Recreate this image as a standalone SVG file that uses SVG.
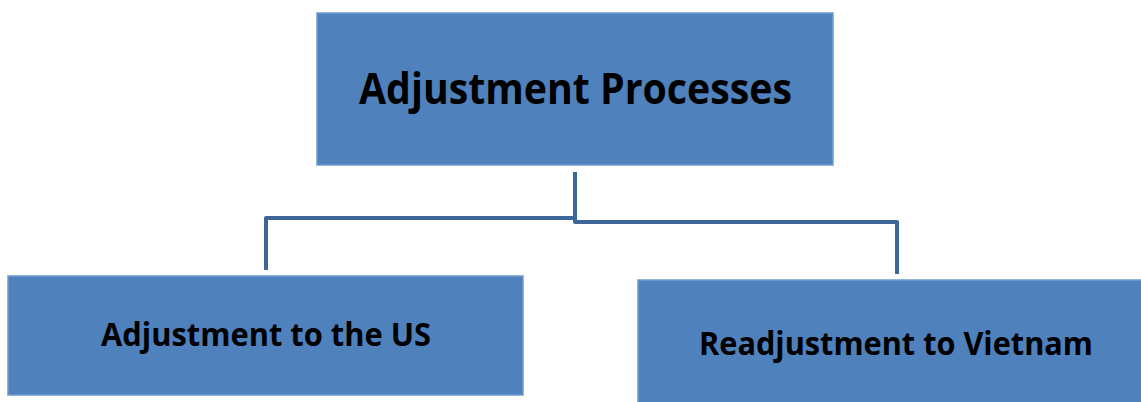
<svg xmlns="http://www.w3.org/2000/svg" width="1141" height="402" viewBox="0 0 1141 402">
<style>
.box{fill:#4f81bd;stroke:#6f9bd1;stroke-width:1.5}
.lbl{font-family:"Open Sans","Liberation Sans",sans-serif;font-weight:bold;fill:#000}
.conn{fill:none;stroke:#3e6697;stroke-width:4;stroke-linejoin:round}
</style>
<rect width="1141" height="402" fill="#ffffff"/>
<g id="connectors">
<path class="conn" d="M575,172 V218 H266 V270"/>
<path class="conn" d="M575,218 V222 H897 V274"/>
</g>
<g id="node-top">
<rect class="box" x="317" y="13" width="516" height="152"/>
<text class="lbl" x="359" y="104" font-size="43" textLength="433" lengthAdjust="spacingAndGlyphs">Adjustment Processes</text>
</g>
<g id="node-us">
<rect class="box" x="8" y="276" width="515" height="119"/>
<text class="lbl" x="101" y="346" font-size="32" textLength="330" lengthAdjust="spacingAndGlyphs">Adjustment to the US</text>
</g>
<g id="node-vn">
<rect class="box" x="638" y="280" width="504" height="123"/>
<text class="lbl" x="699" y="355" font-size="32" textLength="394" lengthAdjust="spacingAndGlyphs">Readjustment to Vietnam</text>
</g>
</svg>
